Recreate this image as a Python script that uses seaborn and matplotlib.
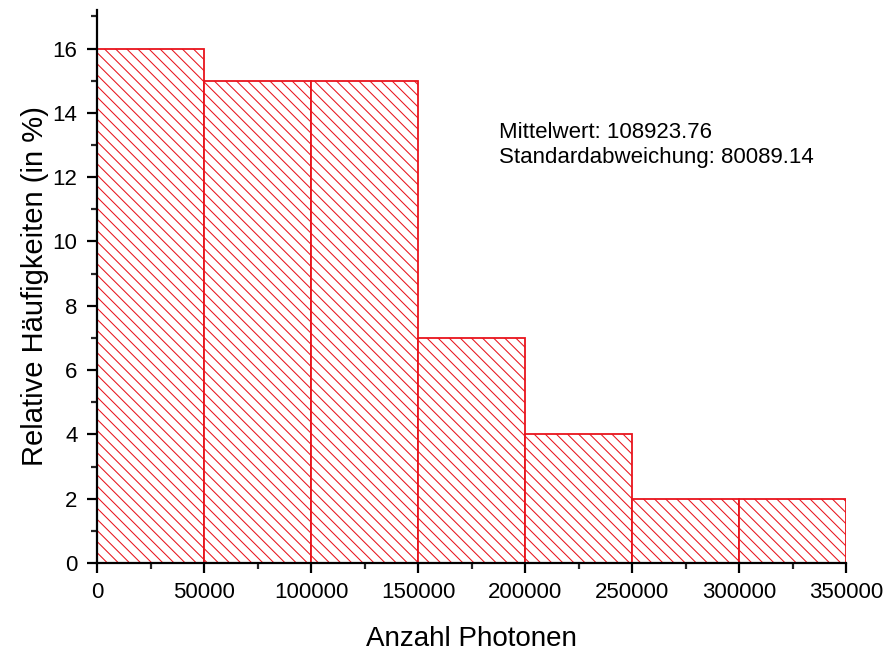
import numpy as np
import pandas as pd
import matplotlib
matplotlib.use("Agg")
import matplotlib.pyplot as plt
from matplotlib.ticker import MultipleLocator
import seaborn as sns

bin_edges = [0, 50000, 100000, 150000, 200000, 250000, 300000, 350000]
percent = [16, 15, 15, 7, 4, 2, 2]
x_ticks = [0, 50000, 100000, 150000, 200000, 250000, 300000, 350000]
y_ticks = [0, 2, 4, 6, 8, 10, 12, 14, 16]
annotation = ["Mittelwert: 108923.76", "Standardabweichung: 80089.14"]

sns.set_style("ticks")
plt.rcParams["font.family"] = ["Liberation Sans", "DejaVu Sans"]
plt.rcParams["hatch.color"] = "#e56a6a"
plt.rcParams["hatch.linewidth"] = 0.75
plt.rcParams["text.color"] = "black"
plt.rcParams["axes.labelcolor"] = "black"

centers = [(a + b) / 2 for a, b in zip(bin_edges[:-1], bin_edges[1:])]
df = pd.DataFrame({"photons": centers, "pct": percent})

fig = plt.figure(figsize=(8.87, 6.52), dpi=100)
ax = fig.add_axes([97 / 887, 89 / 652, 749 / 887, 553 / 652])

sns.histplot(data=df, x="photons", weights="pct", bins=bin_edges, ax=ax,
             stat="count", facecolor="white", edgecolor="#e8141c",
             linewidth=1.3, hatch="\\\\\\", alpha=1)

ax.set_xlim(0, 350000)
ax.set_ylim(0, 17.2)
ax.set_xticks(x_ticks)
ax.set_xticklabels([str(v) for v in x_ticks])
ax.set_yticks(y_ticks)
ax.set_yticklabels([str(v) for v in y_ticks])
ax.xaxis.set_minor_locator(MultipleLocator(25000))
ax.yaxis.set_minor_locator(MultipleLocator(1))

for s in ["top", "right"]:
    ax.spines[s].set_visible(False)
for s in ["left", "bottom"]:
    ax.spines[s].set_linewidth(1.6)
    ax.spines[s].set_color("black")

ax.tick_params(axis="both", which="major", direction="out", length=7,
               width=1.6, labelsize=16, colors="black", pad=7)
ax.tick_params(axis="both", which="minor", direction="out", length=4,
               width=1.6)

ax.set_xlabel("Anzahl Photonen", fontsize=20, labelpad=16)
ax.set_ylabel("Relative Häufigkeiten (in %)", fontsize=21, labelpad=3)

ax.text(0.537, 0.715, annotation[0] + "\n" + annotation[1],
        transform=ax.transAxes, fontsize=16, va="bottom", ha="left",
        linespacing=1.2)

fig.savefig("out.png", dpi=100)
